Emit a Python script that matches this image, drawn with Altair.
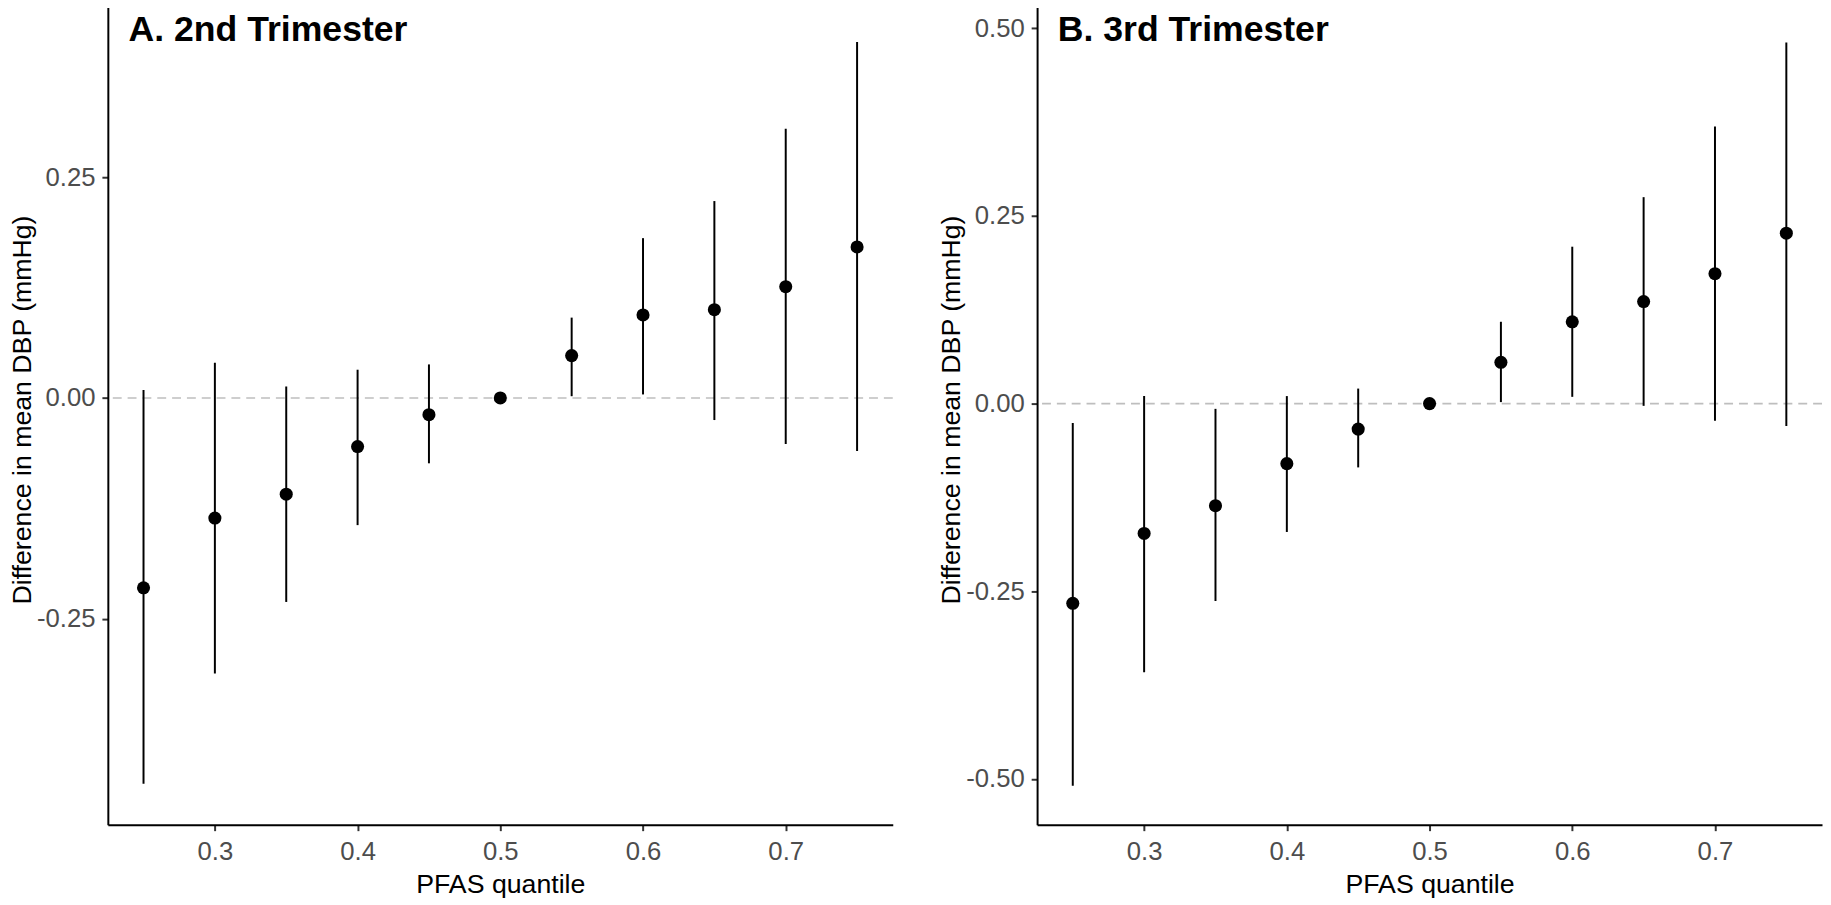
import altair as alt
import pandas as pd

# ---- data ----
quantiles = [0.25, 0.30, 0.35, 0.40, 0.45, 0.50, 0.55, 0.60, 0.65, 0.70, 0.75]

t2_est = [-0.215, -0.136, -0.109, -0.055, -0.019, 0.0, 0.048, 0.094, 0.100, 0.126, 0.171]
t2_lo = [-0.437, -0.312, -0.231, -0.144, -0.074, 0.0, 0.002, 0.004, -0.025, -0.052, -0.060]
t2_hi = [0.009, 0.040, 0.013, 0.032, 0.038, 0.0, 0.091, 0.181, 0.223, 0.305, 0.403]

t3_est = [-0.266, -0.173, -0.136, -0.080, -0.034, 0.0, 0.055, 0.109, 0.136, 0.173, 0.227]
t3_lo = [-0.509, -0.358, -0.263, -0.171, -0.085, 0.0, 0.002, 0.009, -0.003, -0.023, -0.030]
t3_hi = [-0.026, 0.010, -0.007, 0.010, 0.020, 0.0, 0.109, 0.209, 0.275, 0.369, 0.481]

titles = ["A. 2nd Trimester", "B. 3rd Trimester"]
x_ticks = [0.3, 0.4, 0.5, 0.6, 0.7]
y_ticks_a = [-0.25, 0.0, 0.25]
y_ticks_b = [-0.5, -0.25, 0.0, 0.25, 0.5]
x_title = "PFAS quantile"
y_title = "Difference in mean DBP (mmHg)"

FONT = "Liberation Sans"
LABEL_EXPR = "(datum.value < 0 ? '-' : '') + format(abs(datum.value), '.2f')"


def panel(title, est, lo, hi, ydom, yticks, width, xdom):
    df = pd.DataFrame({"q": quantiles, "est": est, "lo": lo, "hi": hi})
    xs = alt.Scale(domain=xdom, nice=False, zero=False)
    ys = alt.Scale(domain=ydom, nice=False, zero=False)
    xax = alt.Axis(title=x_title, values=x_ticks, format=".1f")
    yax = alt.Axis(title=y_title, values=yticks, labelExpr=LABEL_EXPR, titleY=409)

    zero = alt.Chart(pd.DataFrame({"ref": [0.0]})).mark_rule(
        color="#BEBEBE", strokeDash=[9, 6], strokeWidth=1.6
    ).encode(y=alt.Y("ref:Q", scale=ys, axis=yax))

    bars = alt.Chart(df).mark_rule(color="black", strokeWidth=2).encode(
        x=alt.X("q:Q", scale=xs, axis=xax),
        y=alt.Y("lo:Q", scale=ys, axis=yax),
        y2="hi:Q",
    )

    pts = alt.Chart(df).mark_point(
        filled=True, shape="circle", size=175, color="black", opacity=1
    ).encode(
        x=alt.X("q:Q", scale=xs, axis=xax),
        y=alt.Y("est:Q", scale=ys, axis=yax),
    )

    ttl = alt.Chart(pd.DataFrame({"t": [title]})).mark_text(
        align="left", baseline="top", fontSize=36, fontWeight="bold",
        font=FONT, color="black"
    ).encode(text="t:N", x=alt.value(21), y=alt.value(8))

    return alt.layer(zero, bars, pts, ttl).properties(width=width, height=829)


left = panel(titles[0], t2_est, t2_lo, t2_hi, [-0.4833, 0.4448], y_ticks_a, 794, [0.225, 0.775])
right = panel(titles[1], t3_est, t3_lo, t3_hi, [-0.561, 0.5307], y_ticks_b, 794, [0.225, 0.775])

chart = alt.hconcat(left, right, spacing=44).properties(
    padding={"left": 0, "top": -8, "right": 0, "bottom": 0}
).configure_view(stroke=None).configure_axis(
    grid=False,
    domainColor="black",
    domainWidth=2,
    tickColor="#333333",
    tickWidth=2,
    tickSize=6,
    labelFont=FONT,
    labelFontSize=26,
    labelColor="#4D4D4D",
    titleFont=FONT,
    titleFontSize=27,
    titleFontWeight="normal",
    titleColor="black",
).configure_axisX(
    labelPadding=8, titlePadding=8
).configure_axisY(
    labelPadding=7, titlePadding=0
)

chart.save("out.html", embed_options={"renderer": "svg", "actions": False})
